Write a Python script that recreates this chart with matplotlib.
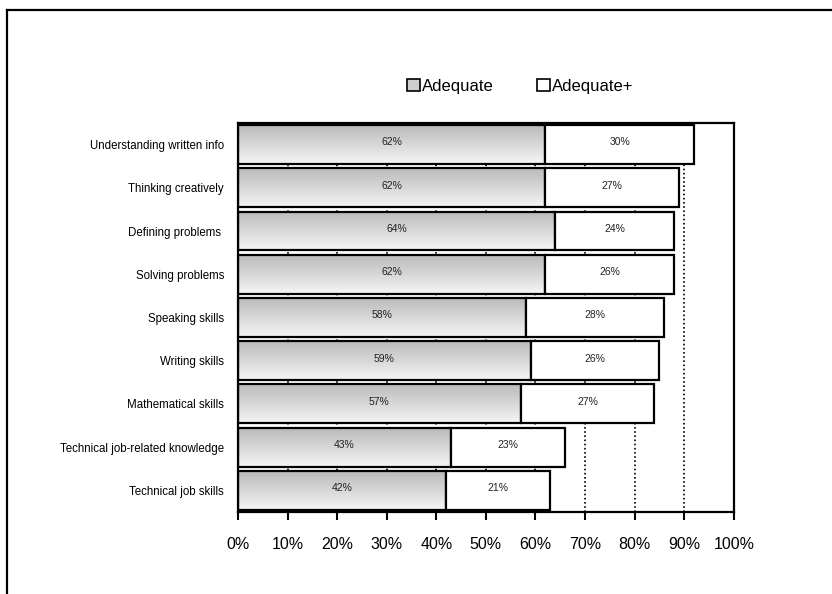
import numpy as np
import matplotlib.pyplot as plt
from matplotlib.patches import Patch
from matplotlib.lines import Line2D

plt.rcParams['font.family'] = ['Liberation Sans', 'DejaVu Sans']

skills = [
    "Understanding written info",
    "Thinking creatively",
    "Defining problems ",
    "Solving problems",
    "Speaking skills",
    "Writing skills",
    "Mathematical skills",
    "Technical job-related knowledge",
    "Technical job skills",
]
adequate = [62, 62, 64, 62, 58, 59, 57, 43, 42]
adequate_plus = [30, 27, 24, 26, 28, 26, 27, 23, 21]
xticks = list(range(0, 101, 10))

fig = plt.figure(figsize=(8.32, 5.94), dpi=100)
ax = fig.add_axes([0.286, 0.138, 0.596, 0.655])

y = np.arange(len(skills))
h = 0.9
grad = np.linspace(0.73, 0.96, 64).reshape(-1, 1)

for i, (a, p) in enumerate(zip(adequate, adequate_plus)):
    yc = y[i]
    # gradient part for "Adequate"
    ax.imshow(grad, cmap="gray", vmin=0, vmax=1, aspect="auto",
              extent=[0, a, yc + h / 2, yc - h / 2], zorder=2, interpolation="bicubic")
    ax.barh(yc, a, height=h, color="none", edgecolor="black", linewidth=1.6, zorder=3)
    ax.barh(yc, p, left=a, height=h, color="white", edgecolor="black", linewidth=1.6, zorder=3)
    ax.text(a / 2, yc - 0.05, f"{a}%", ha="center", va="center", fontsize=7.5, color="#222222", zorder=4)
    ax.text(a + p / 2, yc - 0.05, f"{p}%", ha="center", va="center", fontsize=7.5, color="#222222", zorder=4)

ax.set_xlim(0, 100)
ax.set_ylim(len(skills) - 0.5, -0.5)
ax.set_xticks(xticks)
ax.set_xticklabels([f"{t}%" for t in xticks], fontsize=11.5)
ax.set_yticks(y)
ax.set_yticklabels(skills, fontsize=8.3)
ax.tick_params(axis="x", direction="out", length=6, width=1.5, pad=12)
ax.tick_params(axis="y", length=0, pad=10)
for t in xticks[1:-1]:
    ax.axvline(t, color="black", linestyle=(0, (1, 1.5)), linewidth=1.2, zorder=1)
for s in ax.spines.values():
    s.set_linewidth(1.6)

handles = [
    Patch(facecolor="#cfcfcf", edgecolor="black", linewidth=1.2, label="Adequate"),
    Patch(facecolor="white", edgecolor="black", linewidth=1.2, label="Adequate+"),
]
fig.legend(handles=handles, loc="center", bbox_to_anchor=(0.625, 0.855), ncol=2,
           frameon=False, fontsize=12, handlelength=0.8, handleheight=0.8,
           handletextpad=0.1, columnspacing=2.6)

# outer frame (top and left edges)
fig.add_artist(Line2D([0.009, 1.0], [0.983, 0.983], color="black", linewidth=1.6,
                      transform=fig.transFigure))
fig.add_artist(Line2D([0.009, 0.009], [0.0, 0.983], color="black", linewidth=1.6,
                      transform=fig.transFigure))

fig.savefig("out.png", dpi=100)
